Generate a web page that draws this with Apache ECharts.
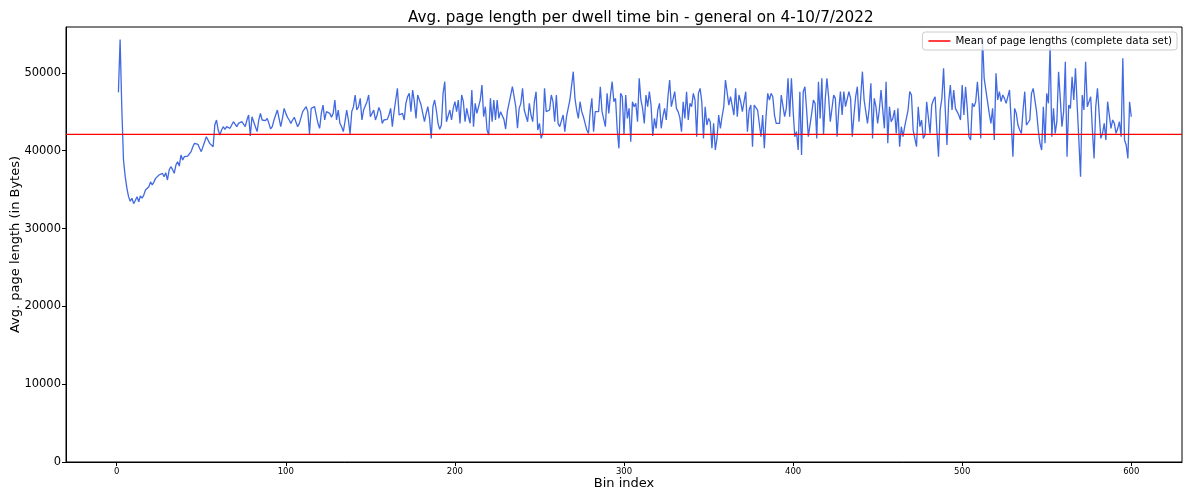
<!DOCTYPE html>
<html>
<head>
<meta charset="utf-8">
<script src="https://cdn.jsdelivr.net/npm/echarts@6/dist/echarts.min.js"></script>
<style>
  html, body { margin: 0; padding: 0; background: #fff; }
  #chart { width: 1183px; height: 496px; }
</style>
</head>
<body>
<div id="chart"></div>
<script>
// Average page length (bytes) for each dwell-time bin, bins 1..600
const lengthsBins1to60 = [47500, 54300, 45500, 38800, 36700, 35200, 34100, 33500, 33900, 33200,
  33600, 34100, 33450, 34200, 33900, 34300, 34950, 35170, 35380, 36000,
  35600, 36000, 36450, 36660, 36880, 36880, 37100, 36660, 37180, 36240,
  37520, 37950, 37600, 37100, 38160, 38590, 38030, 39450, 38800, 39240,
  39020, 39320, 39450, 39880, 40520, 40950, 40730, 40820, 40310, 39880,
  39660, 41160, 41800, 41590, 40950, 41160, 40520, 43300, 43950, 42660];
const lengthsBins61to120 = [42020, 42660, 43090, 42750, 43090, 43300, 42880, 43300, 43730, 43950,
  43090, 43520, 43300, 43730, 43860, 43090, 43950, 44590, 41890, 44370,
  44160, 43090, 42450, 43950, 44800, 43950, 44030, 43860, 44160, 43520,
  42800, 43090, 43950, 44590, 45230, 44160, 43090, 44160, 45440, 44800,
  44290, 43950, 43520, 43950, 44290, 44160, 43090, 43520, 43730, 45020,
  44800, 45660, 45020, 42150, 45440, 45230, 45660, 44590, 43520, 42880];
const lengthsBins121to180 = [44800, 45870, 43950, 45020, 45230, 44800, 44290, 44800, 46520, 43950,
  45230, 43520, 43090, 42450, 43730, 45230, 43950, 42150, 45020, 45660,
  47160, 45230, 45660, 46730, 43950, 45230, 45440, 46300, 47160, 44370,
  44800, 45230, 43950, 44590, 45570, 45020, 43520, 43950, 44160, 44030,
  44590, 45440, 43090, 45020, 46520, 48010, 44590, 44370, 44800, 43950,
  46090, 46940, 47370, 45020, 47800, 46300, 44160, 47160, 47370, 45870];
const lengthsBins181to240 = [46090, 43730, 44800, 45660, 44160, 41590, 45660, 46520, 45230, 43520,
  42750, 43300, 47370, 48870, 43730, 43520, 45230, 43950, 45440, 46300,
  45020, 46520, 43520, 47160, 46300, 43730, 45440, 44370, 43520, 47800,
  43090, 46090, 44800, 45660, 46520, 48440, 44370, 45660, 42660, 42020,
  46730, 43730, 46520, 43950, 46520, 44160, 45020, 44800, 44030, 42790,
  45020, 45230, 47160, 48230, 48140, 45660, 42880, 45440, 46090, 48010];
const lengthsBins241to300 = [45230, 45020, 43730, 46090, 44590, 43730, 46300, 47590, 42660, 43520,
  41590, 42230, 48010, 45020, 44800, 45230, 47160, 46300, 43730, 47160,
  43520, 43090, 42880, 44590, 42450, 44370, 44590, 46520, 46300, 50160,
  46730, 45230, 44160, 46300, 45020, 44370, 43520, 42660, 42230, 45020,
  46730, 42450, 45020, 45230, 45020, 48230, 45020, 45020, 43090, 47370,
  44800, 47160, 48870, 46300, 46730, 42660, 40310, 47370, 46940, 42020];
const lengthsBins301to360 = [47160, 44160, 45440, 41160, 46300, 45660, 46090, 43730, 49300, 46520,
  45440, 43520, 47160, 45660, 47590, 45870, 41890, 44160, 42880, 45230,
  46090, 42880, 44370, 45440, 43950, 46940, 49090, 45660, 45660, 47590,
  45440, 45020, 44290, 42450, 46300, 44160, 47590, 43950, 46090, 45660,
  47370, 46520, 41800, 47370, 48010, 46300, 41590, 45660, 43300, 44160,
  43730, 40310, 43520, 40090, 41590, 44590, 42880, 44370, 45660, 49090];
const lengthsBins361to420 = [49090, 45870, 46940, 46730, 44590, 48010, 44370, 47160, 46300, 45020,
  46300, 47590, 42450, 45230, 45870, 40520, 45870, 45870, 45230, 45020,
  41800, 44590, 40310, 44370, 47370, 46520, 47370, 46940, 44590, 43520,
  43300, 43520, 47160, 47160, 44370, 45440, 49300, 44370, 49300, 45230,
  41800, 42450, 40090, 47590, 39450, 47590, 48230, 45230, 41800, 43300,
  44800, 46520, 46090, 41590, 48870, 44160, 49300, 42020, 46520, 49300];
const lengthsBins421to480 = [46940, 43730, 43950, 47160, 46730, 41800, 45230, 47590, 44590, 47590,
  45660, 45440, 47590, 46730, 41800, 44590, 46940, 48230, 43730, 46940,
  50160, 46520, 45020, 43520, 45440, 48660, 41590, 46730, 45660, 43520,
  45230, 47800, 47800, 42880, 48870, 40950, 45660, 43730, 44160, 45230,
  42230, 45440, 40520, 43090, 41800, 43090, 42880, 45230, 47590, 47160,
  42660, 42450, 40520, 45660, 43090, 43950, 41590, 42020, 46300, 46520];
const lengthsBins481to540 = [42230, 45870, 46520, 46940, 42660, 39230, 45230, 46730, 50580, 45230,
  40730, 46300, 48440, 45230, 47800, 45440, 45020, 44590, 43950, 48440,
  44590, 48230, 45440, 41800, 41370, 46090, 45660, 46300, 48870, 46090,
  41590, 54650, 49300, 49090, 46300, 44800, 43520, 45440, 41370, 49940,
  46520, 47590, 46300, 47160, 46730, 46090, 45870, 47800, 43730, 39230,
  45440, 44800, 43300, 42660, 42230, 45230, 47590, 43300, 43520, 43950];
const lengthsBins541to600 = [47370, 48010, 47800, 45020, 42660, 40950, 40090, 45660, 40950, 47370,
  46090, 53580, 41800, 45440, 42230, 43730, 50160, 46730, 43090, 45020,
  51440, 39230, 45870, 45440, 49510, 46520, 50580, 45870, 41370, 36660,
  47160, 45230, 51440, 45660, 45440, 46940, 42660, 39020, 45660, 48010,
  47800, 41590, 42230, 43520, 41370, 46300, 46090, 42880, 43950, 43520,
  42230, 42880, 43730, 41800, 51870, 41370, 40730, 39020, 46300, 44370];

// Mean page length over the complete data set
const meanPageLength = 42100;

// Axis ticks
const xTickValues = [0, 100, 200, 300, 400, 500, 600];
const yTickValues = [0, 10000, 20000, 30000, 40000, 50000];

const pageLengths = [].concat(
  lengthsBins1to60, lengthsBins61to120, lengthsBins121to180, lengthsBins181to240,
  lengthsBins241to300, lengthsBins301to360, lengthsBins361to420, lengthsBins421to480,
  lengthsBins481to540, lengthsBins541to600);
const seriesData = pageLengths.map((v, i) => [i + 1, v]);

const X_MIN = -30, X_MAX = 630, Y_MAX = 55900;
const FONT = 'DejaVu Sans';

const chart = echarts.init(document.getElementById('chart'), null, { renderer: 'canvas' });
chart.setOption({
  animation: false,
  backgroundColor: '#ffffff',
  textStyle: { fontFamily: FONT, color: '#000' },
  title: {
    text: 'Avg. page length per dwell time bin - general on 4-10/7/2022',
    left: 403,
    top: 6,
    textStyle: { fontFamily: FONT, fontSize: 15.2, fontWeight: 'normal', color: '#000' }
  },
  grid: {
    left: 66, right: 1, top: 27, bottom: 34,
    outerBoundsMode: 'none',
    containLabel: false,
    show: true, borderColor: '#000', borderWidth: 1, backgroundColor: 'transparent'
  },
  legend: {
    right: 6, top: 32,
    data: ['Mean of page lengths (complete data set)'],
    icon: 'rect', itemWidth: 22, itemHeight: 1.5, itemGap: 6,
    padding: [4, 5, 4, 6],
    borderColor: '#cccccc', borderWidth: 1, borderRadius: 3,
    backgroundColor: 'rgba(255,255,255,0.8)',
    textStyle: { fontFamily: FONT, fontSize: 10.3, color: '#000' }
  },
  xAxis: {
    type: 'value',
    min: X_MIN, max: X_MAX,
    name: 'Bin index', nameLocation: 'middle', nameGap: 15, nameMoveOverlap: false,
    nameTextStyle: { fontFamily: FONT, fontSize: 13, color: '#000' },
    axisLine: { show: true, onZero: false, lineStyle: { color: '#000', width: 1 } },
    axisTick: { show: true, length: 4, lineStyle: { color: '#000' }, customValues: xTickValues },
    axisLabel: { fontFamily: FONT, fontSize: 8.5, color: '#000', margin: 5, customValues: xTickValues },
    splitLine: { show: false }
  },
  yAxis: {
    type: 'value',
    min: 0, max: Y_MAX,
    name: 'Avg. page length (in Bytes)', nameLocation: 'middle', nameGap: 44, nameMoveOverlap: false,
    nameTextStyle: { fontFamily: FONT, fontSize: 13, color: '#000' },
    axisLine: { show: true, onZero: false, lineStyle: { color: '#000', width: 1 } },
    axisTick: { show: true, length: 4, lineStyle: { color: '#000' }, customValues: yTickValues },
    axisLabel: {
      fontFamily: FONT, fontSize: 11.5, color: '#000', margin: 5,
      customValues: yTickValues,
      formatter: (v) => String(v)
    },
    splitLine: { show: false }
  },
  series: [
    {
      name: 'Avg. page length',
      type: 'line',
      data: seriesData,
      showSymbol: false,
      symbol: 'none',
      lineStyle: { color: '#4169e1', width: 1.3 },
      itemStyle: { color: '#4169e1' },
      z: 2
    },
    {
      name: 'Mean of page lengths (complete data set)',
      type: 'line',
      data: [[X_MIN, meanPageLength], [X_MAX, meanPageLength]],
      showSymbol: false,
      symbol: 'none',
      lineStyle: { color: '#ff0000', width: 1.4 },
      itemStyle: { color: '#ff0000' },
      z: 3
    }
  ]
});
</script>
</body>
</html>
